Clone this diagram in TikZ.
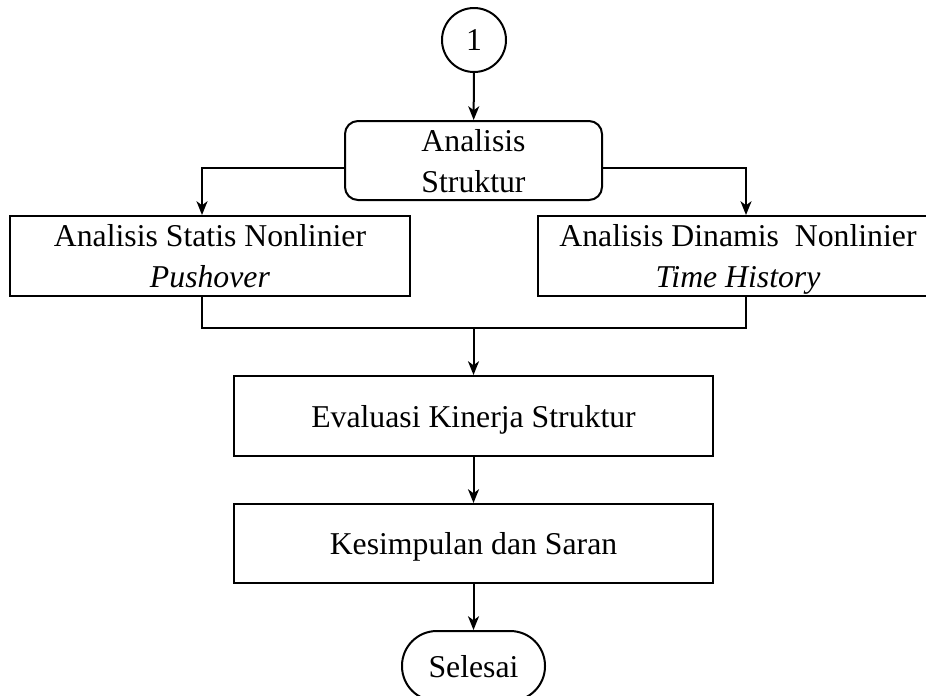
\documentclass[tikz,border=0pt]{standalone}
\usepackage{fontspec}
\setmainfont{Liberation Serif}
\usetikzlibrary{arrows.meta, positioning}

\begin{document}
\begin{tikzpicture}[x=0.4pt, y=-0.4pt, >={Stealth[length=5.5pt, width=4.4pt, inset=1.6pt]},
  every node/.style={font=\fontsize{12.7}{16.4}\selectfont, align=center, inner sep=0pt},
  process/.style={draw, line width=0.8pt, minimum height=32pt, text depth=0pt},
  link/.style={line width=0.8pt}]
  \useasboundingbox (0,0) rectangle (926,695);

  \node[draw, circle, line width=0.8pt, minimum size=25.6pt] (con) at (474,40) {1};
  \node[process, rounded corners=5.2pt, minimum width=102.8pt, minimum height=31.6pt] (as) at (473.5,160.5) {Analisis\\Struktur};
  \node[process, minimum width=160pt] (asn) at (210,256) {Analisis Statis Nonlinier\\\textit{Pushover}};
  \node[process, minimum width=160pt] (adn) at (738,256) {Analisis Dinamis\ \ Nonlinier\\\textit{Time History}};
  \node[process, minimum width=191.6pt] (eval) at (473.5,416) {Evaluasi Kinerja Struktur};
  \node[process, minimum width=191.6pt, minimum height=31.6pt] (kes) at (473.5,543.5) {Kesimpulan dan Saran};
  \node[process, rounded corners=13.9pt, minimum width=57.2pt, minimum height=28pt] (end) at (473.5,666) {Selesai};
  \coordinate (merge) at (473.5,328);

  \draw[link, ->] (con) -- (as);
  \draw[link, ->] ([yshift=-3pt]as.west) -| ([xshift=-3.2pt]asn.north);
  \draw[link, ->] ([yshift=-3pt]as.east) -| ([xshift=3.2pt]adn.north);
  \draw[link] ([xshift=-3.2pt]asn.south) |- (merge) -| ([xshift=3.2pt]adn.south);
  \draw[link, ->] (merge) -- (eval);
  \draw[link, ->] (eval) -- (kes);
  \draw[link, ->] (kes) -- (end);
\end{tikzpicture}
\end{document}
